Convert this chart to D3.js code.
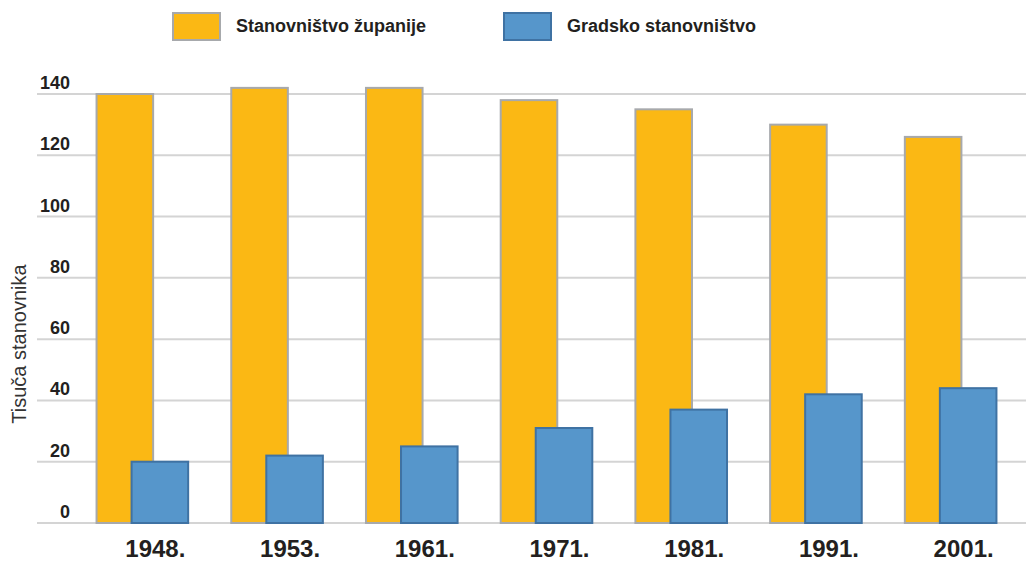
<!DOCTYPE html>
<html><head><meta charset="utf-8">
<script src="https://cdn.jsdelivr.net/npm/d3@7"></script>
<style>body{margin:0;background:#fff;} svg{display:block;font-family:"Liberation Sans",Arial,sans-serif;}</style>
</head><body>
<svg id="c" width="1026" height="561"></svg>
<script>
const years = ["1948.","1953.","1961.","1971.","1981.","1991.","2001."];
const county = [140,142,142,138,135,130,126];
const city = [20,22,25,31,37,42,44];
const yTicks = [0,20,40,60,80,100,120,140];
const seriesNames = ["Stanovništvo županije","Gradsko stanovništvo"];
const fills = ["#fbb814","#5696cb"];
const strokes = ["#a7a9ac","#3f72a3"];

const svg = d3.select("#c");
const y = d3.scaleLinear().domain([0,140]).range([523,94]);
const x = d3.scalePoint().domain(years).range([75,1018]).padding(0.5);
const step = x.step();
const bw = step*0.42;

// grid
svg.append("g").selectAll("line").data(yTicks).join("line")
  .attr("x1",37).attr("x2",1026).attr("y1",d=>y(d)).attr("y2",d=>y(d))
  .attr("stroke","#d4d4d4").attr("stroke-width",2);
svg.append("g").selectAll("text").data(yTicks).join("text")
  .attr("x",70).attr("y",d=>y(d)-5).attr("text-anchor","end")
  .attr("font-size",18).attr("font-weight","bold").attr("fill","#231f20").text(d=>d);

// bars
svg.append("g").selectAll("rect").data(years).join("rect")
  .attr("x",d=>x(d)-step*0.34).attr("width",bw)
  .attr("y",(d,i)=>y(county[i])).attr("height",(d,i)=>y(0)-y(county[i]))
  .attr("fill",fills[0]).attr("stroke",strokes[0]).attr("stroke-width",2);
svg.append("g").selectAll("rect").data(years).join("rect")
  .attr("x",d=>x(d)-step*0.08).attr("width",bw)
  .attr("y",(d,i)=>y(city[i])).attr("height",(d,i)=>y(0)-y(city[i]))
  .attr("fill",fills[1]).attr("stroke",strokes[1]).attr("stroke-width",2);

// x labels
svg.append("g").selectAll("text").data(years).join("text")
  .attr("x",d=>x(d)+13).attr("y",557).attr("text-anchor","middle")
  .attr("font-size",24).attr("font-weight","bold").attr("fill","#231f20").text(d=>d);

// y title
svg.append("text").attr("transform","translate(26,344) rotate(-90)")
  .attr("text-anchor","middle").attr("font-size",20).attr("fill","#333").text("Tisuča stanovnika");

// legend
const lg = [{x:172,tx:236},{x:503,tx:567}];
lg.forEach((l,i)=>{
  svg.append("rect").attr("x",l.x+1).attr("y",13).attr("width",47).attr("height",27)
    .attr("fill",fills[i]).attr("stroke",strokes[i]).attr("stroke-width",2);
  svg.append("text").attr("x",l.tx).attr("y",32).attr("font-size",18).attr("font-weight","bold")
    .attr("fill","#231f20").text(seriesNames[i]);
});
</script>
</body></html>
